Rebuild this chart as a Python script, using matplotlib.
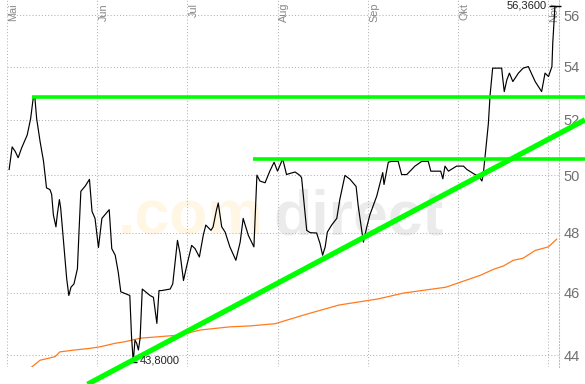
import matplotlib
matplotlib.use("Agg")
import matplotlib.pyplot as plt
from matplotlib.ticker import FixedLocator, NullLocator, FuncFormatter

# ---------------- data ----------------
# x = trading day index (month starts every 21 days), y = price
month_labels = ["Mai", "Jun", "Jul", "Aug", "Sep", "Okt", "Nov"]
month_days = [0, 21, 42, 63, 84, 105, 126]

price_day = [
    0.5, 1.2, 1.9, 2.6, 3.4, 4.7, 5.5, 6.1, 6.5, 6.9,
    7.7, 8.5, 9.2, 10.0, 10.4, 10.8, 11.4, 11.7, 12.2, 12.5,
    13.1, 13.9, 14.4, 14.9, 15.6, 16.4, 16.8, 17.2, 18.2, 19.2,
    19.8, 20.5, 21.3, 22.1, 23.8, 24.4, 25.2, 25.9, 26.5, 28.6,
    29.0, 29.4, 29.8, 30.2, 30.6, 31.0, 31.5, 33.3, 34.1, 34.9,
    35.4, 36.0, 38.0, 38.6, 39.7, 40.3, 41.1, 41.8, 43.0, 43.8,
    44.8, 45.7, 46.3, 47.5, 48.0, 48.8, 49.2, 50.0, 50.8, 51.9,
    53.3, 54.3, 55.0, 56.2, 57.5, 58.2, 58.9, 60.1, 61.2, 62.2,
    63.0, 64.2, 65.1, 65.9, 67.1, 68.2, 68.6, 69.8, 70.6, 72.1,
    72.9, 73.5, 74.1, 74.6, 75.6, 76.8, 77.5, 78.7, 79.9, 81.3,
    81.8, 82.6, 83.0, 83.8, 84.5, 86.1, 86.9, 87.5, 87.8, 88.8,
    89.6, 91.1, 91.9, 93.1, 95.0, 96.6, 98.1, 98.7, 101.0, 101.5,
    102.0, 102.8, 104.7, 106.3, 107.1, 109.0, 109.9, 110.6, 110.9, 111.3,
    112.1, 112.5, 113.1, 115.2, 115.4, 115.8, 116.4, 117.0, 117.8, 119.1,
    120.2, 121.4, 123.0, 124.5, 125.3, 126.1, 126.9, 127.1, 127.6,
]
price_close = [
    50.20, 51.01, 50.85, 50.62, 50.97, 51.44, 52.04, 52.80, 52.81, 52.05,
    51.21, 50.50, 49.55, 49.49, 49.32, 48.61, 48.20, 48.61, 49.14, 48.85,
    47.80, 46.46, 45.91, 46.18, 46.29, 46.79, 48.14, 49.43, 49.61, 49.85,
    48.73, 48.49, 47.50, 48.49, 48.79, 47.46, 47.24, 46.68, 46.03, 45.91,
    44.59, 43.80, 44.48, 44.38, 44.17, 44.54, 46.12, 45.91, 45.85, 45.01,
    46.07, 46.07, 46.12, 46.29, 47.74, 47.30, 46.40, 46.85, 47.57, 47.46,
    47.18, 47.91, 48.26, 48.08, 48.20, 48.79, 49.02, 48.20, 48.02, 47.52,
    47.07, 47.68, 48.49, 47.91, 47.52, 50.00, 49.79, 49.73, 50.14, 50.46,
    50.14, 50.58, 50.02, 50.06, 50.11, 49.99, 49.91, 48.08, 48.00, 47.99,
    47.63, 47.24, 47.52, 48.02, 48.26, 48.49, 49.14, 49.99, 49.85, 49.60,
    48.91, 48.08, 47.68, 48.20, 48.61, 49.26, 49.73, 50.09, 49.67, 50.46,
    50.49, 50.49, 50.02, 50.02, 50.32, 50.49, 50.49, 50.14, 50.14, 49.87,
    50.32, 50.14, 50.32, 50.32, 50.20, 50.02, 49.96, 49.79, 50.02, 50.61,
    51.86, 52.92, 53.94, 53.94, 53.62, 53.05, 53.49, 53.75, 53.43, 53.75,
    53.94, 54.00, 53.43, 53.05, 53.75, 53.62, 54.00, 54.92, 56.36,
]

avg_day = [5.75, 7.7, 11.2, 12.3, 15.8, 19.3, 21.7, 25.2, 27.5, 31.0,
           35.6, 40.3, 45.0, 51.9, 56.6, 62.4, 69.9, 77.3, 86.5, 92.4,
           102.2, 110.2, 113.3, 115.6, 117.9, 120.2, 123.0, 126.1, 128.0]
avg_value = [43.64, 43.85, 43.96, 44.11, 44.17, 44.22, 44.27, 44.38, 44.43, 44.54,
             44.59, 44.64, 44.80, 44.90, 44.93, 45.00, 45.31, 45.60, 45.80, 45.99,
             46.18, 46.57, 46.77, 46.88, 47.07, 47.14, 47.40, 47.52, 47.78]

max_day, max_value = 127.6, 56.36
min_day, min_value = 29.4, 43.80

resist_hi_day = [5.9, 134.6]
resist_hi_value = [52.83, 52.83]
resist_lo_day = [57.2, 134.6]
resist_lo_value = [50.58, 50.58]
trend_day = [18.75, 134.6]
trend_value = [43.11, 52.00]

y_ticks = [44, 46, 48, 50, 52, 54, 56]

# ---------------- figure ----------------
plt.rcParams['font.family'] = ['Liberation Sans', 'DejaVu Sans']
fig = plt.figure(figsize=(5.85, 3.84), dpi=100)
ax = fig.add_axes([7 / 585, 17 / 384, 552 / 585, 367 / 384])
ax.set_yscale('log')
ax.set_xlim(0, 128.55)
ax.set_ylim(43.64, 56.61)

for s in ['top', 'left', 'bottom']:
    ax.spines[s].set_visible(False)
ax.spines['right'].set_linestyle((0, (1, 2)))
ax.spines['right'].set_color('#b8b8dc')
ax.spines['right'].set_linewidth(0.75)

ax.yaxis.set_major_locator(FixedLocator(y_ticks))
ax.yaxis.set_minor_locator(NullLocator())
ax.yaxis.set_major_formatter(FuncFormatter(lambda v, p: f"{v:.0f}"))
ax.yaxis.tick_right()
ax.tick_params(axis='y', length=0, pad=3, labelsize=10.5, labelcolor='#707070')
ax.xaxis.set_major_locator(FixedLocator(month_days))
ax.xaxis.set_minor_locator(NullLocator())
ax.tick_params(axis='x', length=0, labelbottom=False)
ax.grid(True, which='major', color='#b4b4b4', linestyle=(0, (1, 2)), linewidth=0.75)
ax.set_axisbelow(True)

# month labels at top
for d, lab in zip(month_days, month_labels):
    ax.annotate(lab, xy=(d, 1), xycoords=('data', 'axes fraction'),
                xytext=(1.5, -3), textcoords='offset pixels',
                rotation=90, ha='left', va='top', fontsize=7.8, color='#888888')

# watermark
ax.text(0.200, 0.36, ".com", transform=ax.transAxes, fontsize=45, fontweight='bold',
        color='#fff7e4', ha='left', va='baseline', zorder=0.5)
ax.text(0.482, 0.36, "direct", transform=ax.transAxes, fontsize=45, fontweight='bold',
        color='#ebebeb', ha='left', va='baseline', zorder=0.5)

# series
ax.plot(avg_day, avg_value, color='#ff7a1f', lw=0.9, zorder=2)
ax.plot(price_day, price_close, color='black', lw=0.85, zorder=3)

# green lines
ax.plot(resist_hi_day, resist_hi_value, color='#00ff00', lw=2.6, zorder=5,
        clip_on=False, solid_capstyle='butt')
ax.plot(resist_lo_day, resist_lo_value, color='#00ff00', lw=2.6, zorder=5,
        clip_on=False, solid_capstyle='butt')
ax.plot(trend_day, trend_value, color='#00ff00', lw=3.8, zorder=5,
        clip_on=False, solid_capstyle='butt')

# max / min markers
ax.plot([max_day], [max_value], marker='_', markersize=9, color='black', mew=1, zorder=4,
        clip_on=False)
ax.annotate(f"{max_value:.4f}".replace('.', ','), xy=(max_day, max_value),
            xytext=(-8, 1), textcoords='offset pixels', ha='right', va='center',
            fontsize=8, color='#222222')
ax.plot([min_day], [min_value], marker='_', markersize=6, color='black', mew=1, zorder=4,
        clip_on=False)
ax.annotate(f"{min_value:.4f}".replace('.', ','), xy=(min_day, min_value),
            xytext=(7, 1), textcoords='offset pixels', ha='left', va='center',
            fontsize=8, color='#222222', zorder=6)

fig.savefig("out.png", dpi=100)
